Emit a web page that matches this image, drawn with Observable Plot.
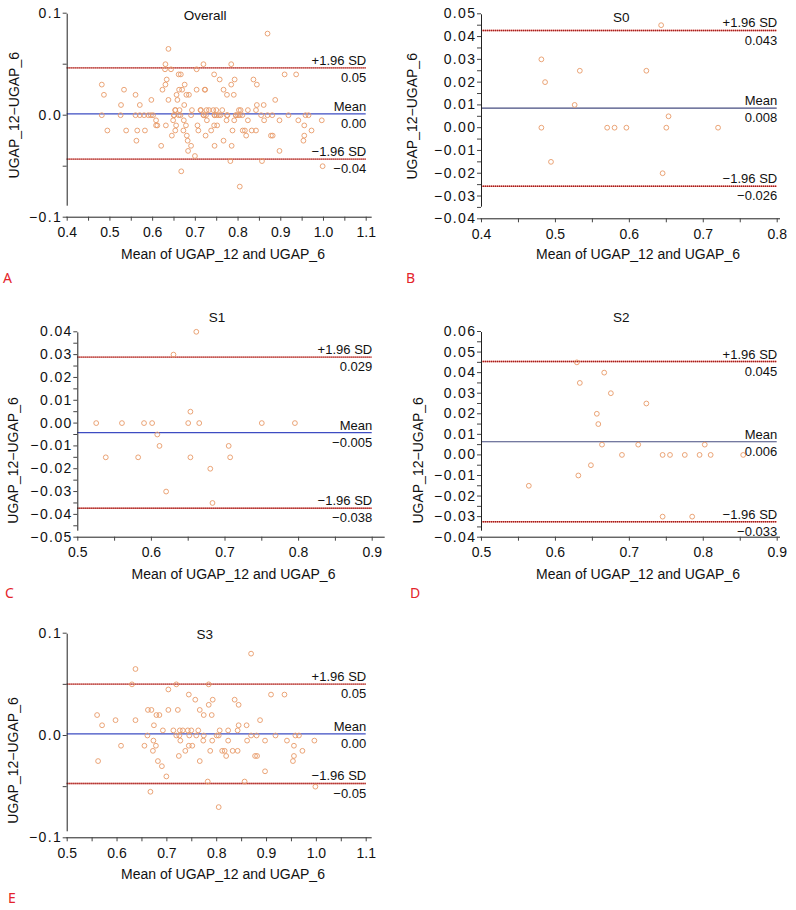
<!DOCTYPE html>
<html>
<head>
<meta charset="utf-8">
<script src="https://cdn.jsdelivr.net/npm/d3@7"></script>
<script src="https://cdn.jsdelivr.net/npm/@observablehq/plot@0.6"></script>
<style>
  body { margin: 0; background: #fff; }
  #fig { position: relative; width: 796px; height: 910px; font-family: "Liberation Sans", Arial, sans-serif; }
  .panel { position: absolute; }
  .letter { position: absolute; color: #e4232b; font-family: "Noto Sans", sans-serif; font-size: 14px; line-height: 14px; }
</style>
</head>
<body>
<div id="fig"></div>
<script>
// ---------- Data ----------
const panelNames = ["Overall", "S0", "S1", "S2", "S3"];
const panelLetters = ["A", "B", "C", "D", "E"];
const xLabel = "Mean of UGAP_12 and UGAP_6";
const yLabel = "UGAP_12\u2212UGAP_6";

// S0
const s0Mean = [0.643, 0.481, 0.486, 0.533, 0.623, 0.526, 0.653, 0.481, 0.570, 0.580, 0.596, 0.650, 0.720, 0.494, 0.645];
const s0Diff = [0.045, 0.030, 0.020, 0.025, 0.025, 0.010, 0.005, 0, 0, 0, 0, 0, 0, -0.015, -0.020];

// S1
const s1Mean = [0.661, 0.630, 0.653, 0.525, 0.560, 0.590, 0.601, 0.650, 0.665, 0.750, 0.795, 0.608, 0.611, 0.705, 0.538, 0.582, 0.653, 0.707, 0.680, 0.620, 0.683];
const s1Diff = [0.040, 0.030, 0.005, 0, 0, 0, 0, 0, 0, 0, 0, -0.005, -0.010, -0.010, -0.015, -0.015, -0.015, -0.015, -0.020, -0.030, -0.035];

// S2
const s2Mean = [0.629, 0.666, 0.633, 0.675, 0.723, 0.656, 0.658, 0.663, 0.712, 0.802, 0.690, 0.745, 0.755, 0.775, 0.795, 0.810, 0.854, 0.648, 0.631, 0.564, 0.745, 0.785];
const s2Diff = [0.045, 0.040, 0.035, 0.030, 0.025, 0.020, 0.015, 0.005, 0.005, 0.005, 0, 0, 0, 0, 0, 0, 0, -0.005, -0.010, -0.015, -0.030, -0.030];

// S3
const s3Mean = [
  0.869,
  0.637,
  0.630, 0.719, 0.784,
  0.703,
  0.744, 0.909, 0.936,
  0.757, 0.792, 0.836,
  0.784, 0.844,
  0.662, 0.669, 0.703, 0.722, 0.766,
  0.560, 0.679, 0.685, 0.774, 0.790,
  0.597, 0.637, 0.887,
  0.570, 0.674, 0.844, 0.860,
  0.692, 0.713, 0.726, 0.732, 0.742, 0.749, 0.763, 0.806, 0.823, 0.842,
  0.661, 0.719, 0.725, 0.745, 0.759, 0.774, 0.800, 0.804, 0.869, 0.880, 0.918, 0.958, 0.965,
  0.673, 0.727, 0.773, 0.791, 0.823, 0.861, 0.897, 0.941, 0.996,
  0.608, 0.655, 0.678, 0.744, 0.751, 0.955,
  0.672, 0.737, 0.787, 0.811, 0.816, 0.832, 0.842, 0.972,
  0.724, 0.819, 0.877, 0.881, 0.955,
  0.562, 0.682, 0.766, 0.953,
  0.690,
  0.897,
  0.699,
  0.782, 0.856,
  0.998,
  0.667,
  0.804
];
const s3Diff = [
  0.080,
  0.065,
  0.050, 0.050, 0.050,
  0.045,
  0.040, 0.040, 0.040,
  0.035, 0.035, 0.035,
  0.030, 0.030,
  0.025, 0.025, 0.025, 0.025, 0.025,
  0.020, 0.020, 0.020, 0.020, 0.020,
  0.015, 0.015, 0.015,
  0.010, 0.010, 0.010, 0.010,
  0.005, 0.005, 0.005, 0.005, 0.005, 0.005, 0.005, 0.005, 0.005, 0.005,
  0, 0, 0, 0, 0, 0, 0, 0, 0, 0, 0, 0, 0,
  -0.005, -0.005, -0.005, -0.005, -0.005, -0.005, -0.005, -0.005, -0.005,
  -0.010, -0.010, -0.010, -0.010, -0.010, -0.010,
  -0.015, -0.015, -0.015, -0.015, -0.015, -0.015, -0.015, -0.015,
  -0.020, -0.020, -0.020, -0.020, -0.020,
  -0.025, -0.025, -0.025, -0.025,
  -0.030,
  -0.035,
  -0.040,
  -0.045, -0.045,
  -0.050,
  -0.055,
  -0.070
];

// Overall = all subgroups together
const overallMean = [...s0Mean, ...s1Mean, ...s2Mean, ...s3Mean];
const overallDiff = [...s0Diff, ...s1Diff, ...s2Diff, ...s3Diff];

// Bias and limits of agreement (Overall, S0, S1, S2, S3)
const meanDiff = [0.0013, 0.0086, -0.0042, 0.0064, 0.0016];
const upperLoA = [0.0464, 0.0427, 0.0289, 0.0454, 0.0502];
const lowerLoA = [-0.0431, -0.0257, -0.0373, -0.0325, -0.0469];
const meanLabel  = ["0.00", "0.008", "\u22120.005", "0.006", "0.00"];
const upperLabel = ["0.05", "0.043", "0.029", "0.045", "0.05"];
const lowerLabel = ["\u22120.04", "\u22120.026", "\u22120.038", "\u22120.033", "\u22120.05"];

// Tick values
const xTicksA = [0.4, 0.45, 0.5, 0.55, 0.6, 0.65, 0.7, 0.75, 0.8, 0.85, 0.9, 0.95, 1.0, 1.05, 1.1];
const xLabelsA = [0.4, 0.5, 0.6, 0.7, 0.8, 0.9, 1.0, 1.1];
const xTicksB = [0.4, 0.45, 0.5, 0.55, 0.6, 0.65, 0.7, 0.75, 0.8];
const xLabelsB = [0.4, 0.5, 0.6, 0.7, 0.8];
const xTicksCD = [0.5, 0.55, 0.6, 0.65, 0.7, 0.75, 0.8, 0.85, 0.9];
const xLabelsCD = [0.5, 0.6, 0.7, 0.8, 0.9];
const xTicksE = [0.5, 0.55, 0.6, 0.65, 0.7, 0.75, 0.8, 0.85, 0.9, 0.95, 1.0, 1.05, 1.1];
const xLabelsE = [0.5, 0.6, 0.7, 0.8, 0.9, 1.0, 1.1];

const yTicksAE = [-0.1, -0.05, 0, 0.05, 0.1];
const yLabelsAE = [-0.1, 0, 0.1];
const yTicksB = [-0.04, -0.035, -0.03, -0.025, -0.02, -0.015, -0.01, -0.005, 0, 0.005, 0.01, 0.015, 0.02, 0.025, 0.03, 0.035, 0.04, 0.045, 0.05];
const yLabelsB = [-0.04, -0.03, -0.02, -0.01, 0, 0.01, 0.02, 0.03, 0.04, 0.05];
const yTicksC = [-0.05, -0.045, -0.04, -0.035, -0.03, -0.025, -0.02, -0.015, -0.01, -0.005, 0, 0.005, 0.01, 0.015, 0.02, 0.025, 0.03, 0.035, 0.04];
const yLabelsC = [-0.05, -0.04, -0.03, -0.02, -0.01, 0, 0.01, 0.02, 0.03, 0.04];
const yTicksD = [-0.04, -0.035, -0.03, -0.025, -0.02, -0.015, -0.01, -0.005, 0, 0.005, 0.01, 0.015, 0.02, 0.025, 0.03, 0.035, 0.04, 0.045, 0.05, 0.055, 0.06];
const yLabelsD = [-0.04, -0.03, -0.02, -0.01, 0, 0.01, 0.02, 0.03, 0.04, 0.05, 0.06];

// ---------- Layout ----------
const panels = [
  {xs: overallMean, ys: overallDiff, left: 0, top: 0, mL: 66.7, mR: 32.3, mT: 12.7, mB: 83.3,
   xDomain: [0.4, 1.1], yDomain: [-0.1, 0.1], xTicks: xTicksA, xLabels: xLabelsA, yTicks: yTicksAE, yLabels: yLabelsAE, yFmt: ".1f",
   meanColor: "#3d4cc2", yExt: 11, xExt: 6, tdx: -11.5, tdy: -2.7, xldx: 6.3, xldy: 31.6, yldx: -53, yldy: 0, letter: [3, 271]},
  {xs: s0Mean, ys: s0Diff, left: 398, top: 0, mL: 83, mR: 19.3, mT: 13.3, mB: 81.7,
   xDomain: [0.4, 0.8], yDomain: [-0.04, 0.05], xTicks: xTicksB, xLabels: xLabelsB, yTicks: yTicksB, yLabels: yLabelsB, yFmt: ".2f",
   meanColor: "#464d80", yExt: 11.6, xExt: 3.3, tdx: -8, tdy: -1.6, xldx: 8.7, xldy: 30, yldx: -68.7, yldy: 0, letter: [406, 271]},
  {xs: s1Mean, ys: s1Diff, left: 0, top: 300, mL: 77.3, mR: 26.3, mT: 31.3, mB: 63.3,
   xDomain: [0.5, 0.9], yDomain: [-0.05, 0.04], xTicks: xTicksCD, xLabels: xLabelsCD, yTicks: yTicksC, yLabels: yLabelsC, yFmt: ".2f",
   meanColor: "#3d4cc2", yExt: 6, xExt: 13, tdx: -8, tdy: -19.6, xldx: 8.5, xldy: 31.6, yldx: -64, yldy: 26, letter: [5, 586]},
  {xs: s2Mean, ys: s2Diff, left: 398, top: 300, mL: 83, mR: 19.3, mT: 31, mB: 63.3,
   xDomain: [0.5, 0.9], yDomain: [-0.04, 0.06], xTicks: xTicksCD, xLabels: xLabelsCD, yTicks: yTicksD, yLabels: yLabelsD, yFmt: ".2f",
   meanColor: "#464d80", yExt: 6, xExt: 3.3, tdx: -8, tdy: -19.3, xldx: 8.7, xldy: 31.6, yldx: -62.7, yldy: 26, letter: [410, 586]},
  {xs: s3Mean, ys: s3Diff, left: 0, top: 600, mL: 66.7, mR: 32.3, mT: 32.7, mB: 62.7,
   xDomain: [0.5, 1.1], yDomain: [-0.1, 0.1], xTicks: xTicksE, xLabels: xLabelsE, yTicks: yTicksAE, yLabels: yLabelsAE, yFmt: ".1f",
   meanColor: "#3d4cc2", yExt: 6, xExt: 6, tdx: -12, tdy: -3.4, xldx: 6.3, xldy: 31, yldx: -53.4, yldy: 25, letter: [8, 891]}
];

const key = v => Math.round(v * 1000);
const fig = document.getElementById("fig");

panels.forEach((p, i) => {
  const pts = p.xs.map((x, k) => ({x, y: p.ys[k]}));
  const [x0, x1] = p.xDomain, [y0, y1] = p.yDomain;
  const fmtX = d3.format(".1f"), fmtY = d3.format(p.yFmt);
  const xLab = new Set(p.xLabels.map(key)), yLab = new Set(p.yLabels.map(key));
  const txt = {fill: "#111", fontSize: 13};

  const chart = Plot.plot({
    width: 398, height: 300,
    marginLeft: p.mL, marginRight: p.mR, marginTop: p.mT, marginBottom: p.mB,
    x: {domain: p.xDomain},
    y: {domain: p.yDomain},
    style: {fontFamily: "'Liberation Sans', Arial, sans-serif", fontSize: "13px", background: "transparent", overflow: "visible"},
    marks: [
      // limits of agreement: light red line with darker dots on top
      Plot.ruleY([upperLoA[i], lowerLoA[i]], {x1: x0, x2: x1, stroke: "#e27a72", strokeWidth: 1.4}),
      Plot.ruleY([upperLoA[i], lowerLoA[i]], {x1: x0, x2: x1, stroke: "#9e1f1f", strokeWidth: 1.4, strokeDasharray: "1,1"}),
      // mean difference
      Plot.ruleY([meanDiff[i]], {x1: x0, x2: x1, stroke: p.meanColor, strokeWidth: 1.2}),
      // points
      Plot.dot(pts, {x: "x", y: "y", r: 2.4, stroke: "#e89a68", strokeWidth: 0.9, fill: "none"}),
      // axis lines
      Plot.ruleX([x0], {y1: y0, y2: y1, stroke: "#222", strokeWidth: 1, insetTop: -p.yExt, insetBottom: -1}),
      Plot.ruleY([y0], {x1: x0, x2: x1, stroke: "#222", strokeWidth: 1, insetRight: -p.xExt, insetLeft: -0.5}),
      // axes
      Plot.axisX(p.xTicks, {anchor: "bottom", tickSize: 4, tickPadding: 6, stroke: "#444", fill: "#111", fontSize: 14,
        tickFormat: d => xLab.has(key(d)) ? fmtX(d) : "", label: null}),
      Plot.axisY(p.yTicks, {anchor: "left", tickSize: 4, tickPadding: 1, stroke: "#444", fill: "#111", fontSize: 14,
        tickFormat: d => yLab.has(key(d)) ? fmtY(d) : "", label: null}),
      // reference line labels
      Plot.text(["+1.96 SD"], {x: x1, y: upperLoA[i], text: d => d, textAnchor: "end", lineAnchor: "bottom", dy: -3, ...txt}),
      Plot.text([upperLabel[i]], {x: x1, y: upperLoA[i], text: d => d, textAnchor: "end", lineAnchor: "top", dy: 5, ...txt}),
      Plot.text(["Mean"], {x: x1, y: meanDiff[i], text: d => d, textAnchor: "end", lineAnchor: "bottom", dy: -3, ...txt}),
      Plot.text([meanLabel[i]], {x: x1, y: meanDiff[i], text: d => d, textAnchor: "end", lineAnchor: "top", dy: 5, ...txt}),
      Plot.text(["\u22121.96 SD"], {x: x1, y: lowerLoA[i], text: d => d, textAnchor: "end", lineAnchor: "bottom", dy: -3, ...txt}),
      Plot.text([lowerLabel[i]], {x: x1, y: lowerLoA[i], text: d => d, textAnchor: "end", lineAnchor: "top", dy: 5, ...txt}),
      // title
      Plot.text([panelNames[i]], {frameAnchor: "top", text: d => d, textAnchor: "middle", lineAnchor: "top", dx: p.tdx, dy: p.tdy, fill: "#111", fontSize: 13.5}),
      // axis labels
      Plot.text([xLabel], {frameAnchor: "bottom", text: d => d, textAnchor: "middle", lineAnchor: "top", dx: p.xldx, dy: p.xldy, fill: "#111", fontSize: 14}),
      Plot.text([yLabel], {frameAnchor: "left", text: d => d, textAnchor: "middle", lineAnchor: "middle", rotate: -90, dx: p.yldx, dy: p.yldy, fill: "#111", fontSize: 14})
    ]
  });
  // tick label typography (y tick labels are set wider in the original)
  chart.querySelectorAll('g[aria-label="x-axis tick label"]').forEach(g => {
    g.setAttribute("font-size", "14"); g.style.fontSize = "14px";
  });
  chart.querySelectorAll('g[aria-label="y-axis tick label"]').forEach(g => {
    g.setAttribute("font-size", "14"); g.style.fontSize = "14px"; g.style.letterSpacing = "1.4px";
  });
  chart.classList.add("panel");
  chart.style.left = p.left + "px";
  chart.style.top = p.top + "px";
  fig.appendChild(chart);

  const L = document.createElement("div");
  L.className = "letter";
  L.textContent = panelLetters[i];
  L.style.left = p.letter[0] + "px";
  L.style.top = p.letter[1] + "px";
  fig.appendChild(L);
});
</script>
</body>
</html>
